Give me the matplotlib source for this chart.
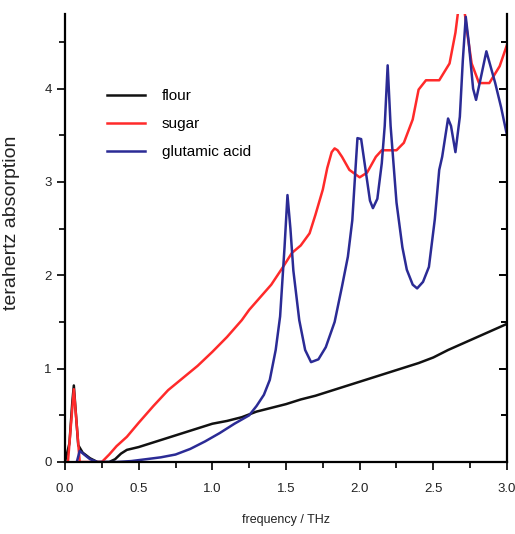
import numpy as np
import matplotlib; matplotlib.use("Agg")
import matplotlib.pyplot as plt
from matplotlib.ticker import MultipleLocator, FormatStrFormatter

plt.rcParams.update({"font.family": ["Liberation Sans", "DejaVu Sans"]})

# flour (black)
flour_f = [0.0, 0.03, 0.05, 0.06, 0.07, 0.09, 0.12, 0.17, 0.22, 0.3, 0.34, 0.38, 0.42, 0.5, 0.6, 0.7,
           0.8, 0.9, 1.0, 1.1, 1.2, 1.3, 1.4, 1.5, 1.6, 1.7, 1.8, 1.9, 2.0, 2.1, 2.2, 2.3, 2.4,
           2.5, 2.6, 2.7, 2.8, 2.9, 3.0]
flour_a = [0.0, 0.2, 0.65, 0.82, 0.6, 0.18, 0.1, 0.04, 0.0, 0.0, 0.03, 0.09, 0.13, 0.16, 0.21, 0.26,
           0.31, 0.36, 0.41, 0.44, 0.48, 0.54, 0.58, 0.62, 0.67, 0.71, 0.76, 0.81, 0.86, 0.91, 0.96,
           1.01, 1.06, 1.12, 1.2, 1.27, 1.34, 1.41, 1.48]

# sugar (red)
sugar_f = [0.02, 0.06, 0.10, 0.25, 0.3, 0.35, 0.42, 0.5, 0.6, 0.7, 0.8, 0.9, 1.0, 1.1, 1.2, 1.25,
           1.3, 1.4, 1.48, 1.54, 1.6, 1.66, 1.7, 1.75, 1.78, 1.81, 1.83, 1.85, 1.88, 1.93, 2.0,
           2.05, 2.11, 2.15, 2.25, 2.3, 2.36, 2.4, 2.45, 2.54, 2.61, 2.65, 2.67, 2.69, 2.71,
           2.73, 2.76, 2.81, 2.88, 2.95, 3.0]
sugar_a = [0.0, 0.78, 0.0, 0.0, 0.08, 0.17, 0.27, 0.42, 0.6, 0.77, 0.9, 1.03, 1.18, 1.34, 1.52, 1.63,
           1.72, 1.9, 2.09, 2.24, 2.32, 2.45, 2.65, 2.92, 3.15, 3.32, 3.36, 3.34, 3.27, 3.13,
           3.05, 3.1, 3.27, 3.34, 3.34, 3.42, 3.67, 3.99, 4.09, 4.09, 4.27, 4.6, 4.85, 4.95,
           4.85, 4.6, 4.27, 4.06, 4.06, 4.24, 4.47]

# glutamic acid (blue)
glu_f = [0.08, 0.1, 0.13, 0.17, 0.22, 0.35, 0.45, 0.55, 0.65, 0.75, 0.85, 0.95, 1.05, 1.15, 1.25,
         1.3, 1.35, 1.39, 1.43, 1.46, 1.49, 1.51, 1.53, 1.55, 1.59, 1.63, 1.67, 1.72, 1.77, 1.83,
         1.88, 1.92, 1.95, 1.97, 1.985, 2.01, 2.04, 2.07, 2.09, 2.12, 2.15, 2.17, 2.19, 2.21,
         2.25, 2.29, 2.32, 2.36, 2.39, 2.43, 2.47, 2.51, 2.54, 2.56, 2.6, 2.62, 2.65, 2.68, 2.7,
         2.72, 2.74, 2.77, 2.79, 2.82, 2.86, 2.92, 2.96, 3.0]
glu_a = [0.0, 0.12, 0.08, 0.03, 0.0, 0.0, 0.01, 0.03, 0.05, 0.08, 0.14, 0.22, 0.31, 0.41, 0.5,
         0.6, 0.72, 0.88, 1.2, 1.56, 2.3, 2.86, 2.5, 2.05, 1.52, 1.2, 1.07, 1.1, 1.23, 1.5,
         1.88, 2.2, 2.59, 3.1, 3.47, 3.46, 3.13, 2.8, 2.72, 2.82, 3.2, 3.6, 4.25, 3.6,
         2.78, 2.3, 2.06, 1.9, 1.86, 1.93, 2.09, 2.6, 3.13, 3.27, 3.68, 3.6, 3.32, 3.7, 4.3,
         4.77, 4.5, 4.0, 3.88, 4.1, 4.4, 4.06, 3.8, 3.5]

fig = plt.figure(figsize=(5.15, 5.34), dpi=100)
ax = fig.add_axes([65/515, 1-462/534, 442/515, 448/534])
ax.plot(flour_f, flour_a, color="#111111", lw=1.8, label="flour")
ax.plot(sugar_f, sugar_a, color="#ff2a2a", lw=1.8, label="sugar")
ax.plot(glu_f, glu_a, color="#2b2b95", lw=1.8, label="glutamic acid")

ax.set_xlim(0, 3.0); ax.set_ylim(0, 4.8)
ax.xaxis.set_major_locator(MultipleLocator(0.5)); ax.xaxis.set_minor_locator(MultipleLocator(0.25))
ax.yaxis.set_major_locator(MultipleLocator(1)); ax.yaxis.set_minor_locator(MultipleLocator(0.5))
ax.xaxis.set_major_formatter(FormatStrFormatter("%.1f"))
ax.spines["top"].set_visible(False)
for s in ["left", "bottom", "right"]:
    ax.spines[s].set_linewidth(1.6)
ax.tick_params(which="both", direction="out", width=1.4, labelsize=9.5, colors="#222222")
ax.tick_params(which="major", length=6); ax.tick_params(which="minor", length=4)
ax.tick_params(axis="x", which="major", pad=9)

ax2 = ax.twinx(); ax2.set_ylim(ax.get_ylim())
ax2.yaxis.set_major_locator(MultipleLocator(1)); ax2.yaxis.set_minor_locator(MultipleLocator(0.5))
ax2.tick_params(which="both", direction="in", width=1.4, labelright=False)
ax2.tick_params(which="major", length=6); ax2.tick_params(which="minor", length=4)
for s in ax2.spines.values(): s.set_visible(False)

ax.set_xlabel("frequency / THz", fontsize=9, color="#222222", labelpad=14)
ax.set_ylabel("terahertz absorption", fontsize=14, color="#222222")
ax.yaxis.set_label_coords(-0.102, 0.533)

ax.legend(loc="upper left", bbox_to_anchor=(0.095, 0.832), frameon=False, fontsize=11,
          handlelength=2.5, handletextpad=1.1, labelspacing=0.92, borderpad=0, borderaxespad=0)

fig.savefig("out.png", dpi=100, facecolor="white")
